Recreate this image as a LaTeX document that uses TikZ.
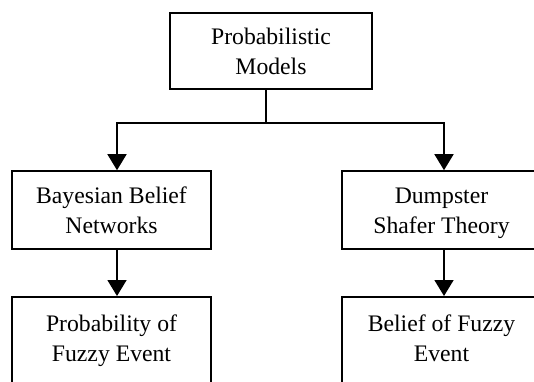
\documentclass[tikz,border=0pt]{standalone}
\usepackage{fontspec}
\setmainfont{Liberation Serif}
\usetikzlibrary{arrows.meta}

\begin{document}
\begin{tikzpicture}[x=1pt,y=-1pt,
  box/.style={draw,line width=1.6pt,align=center,inner sep=0pt,
    font=\fontsize{23.7}{30}\selectfont},
  mid/.style={box,minimum width=199pt,minimum height=78pt,text height=46pt,text depth=0pt},
  leaf/.style={box,anchor=north,minimum width=199pt,inner ysep=18pt,text depth=60pt},
  arr/.style={line width=1.6pt,-{Triangle[width=19pt,length=16pt]}}]
  \useasboundingbox (0,0) rectangle (534,381);
  \clip (0,0) rectangle (534,381);

  \node[box,minimum width=202pt,minimum height=76pt] (pm) at (271,51) {Probabilistic\\Models};
  \node[mid] (bbn) at (111.5,210) {Bayesian Belief\\Networks};
  \node[mid] (dst) at (441.5,210) {Dumpster\\Shafer Theory};
  \node[leaf] (pfe) at (111.5,296) {Probability of\\Fuzzy Event};
  \node[leaf] (bfe) at (441.5,296) {Belief of Fuzzy\\Event};

  \coordinate (split) at (266,123);
  \coordinate (lcol) at (117,123);
  \coordinate (rcol) at (444,123);

  \draw[line width=1.6pt] (pm.south -| split) -- (split);
  \draw[line width=1.6pt,line cap=rect] (lcol) -- (rcol);
  \draw[arr] (lcol) -- (lcol |- bbn.north);
  \draw[arr] (rcol) -- (rcol |- dst.north);
  \draw[arr] (bbn.south -| lcol) -- (lcol |- pfe.north);
  \draw[arr] (dst.south -| rcol) -- (rcol |- bfe.north);
\end{tikzpicture}
\end{document}
